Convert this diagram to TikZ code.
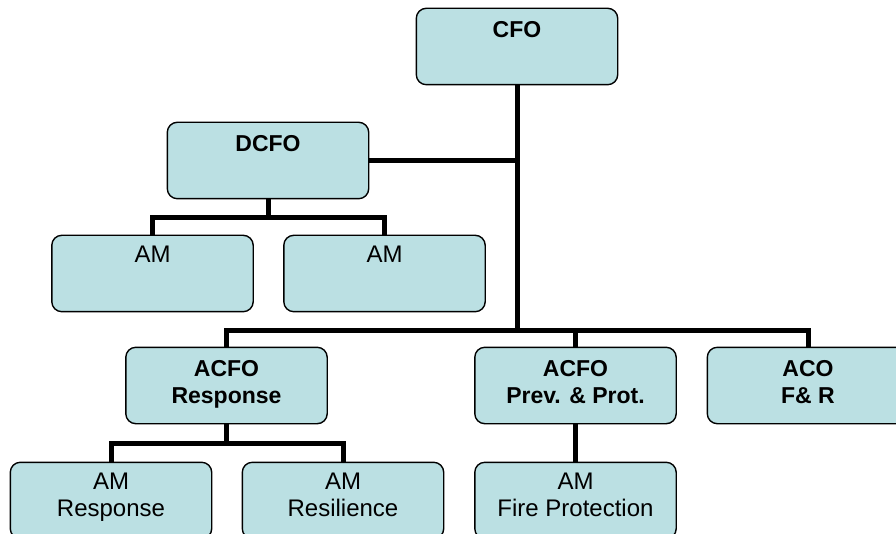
\documentclass[tikz,border=0pt]{standalone}
\usepackage{fontspec}
\setmainfont{Liberation Sans}
\definecolor{boxfill}{RGB}{187,224,227}
\begin{document}
\begin{tikzpicture}[x=1pt,y=-1pt,
  orgbox/.style={draw=black, line width=1.4pt, fill=boxfill, rounded corners=10pt,
    minimum width=200pt, minimum height=75pt, inner sep=0pt},
  conn/.style={line width=5pt, line join=miter},
  boldlbl/.style={anchor=north, inner sep=0pt, align=center, yshift=-13pt,
    font=\fontsize{23}{27}\selectfont\bfseries},
  reglbl/.style={anchor=north, inner sep=0pt, align=center, yshift=-10.5pt,
    font=\fontsize{24}{27}\selectfont}]
\useasboundingbox (0,0) rectangle (896,534);
\clip (0,0) rectangle (896,534);
\fill[white] (0,0) rectangle (896,534);

% box positions (nodes, redrawn later above connectors)
\path (517,46.5) node[orgbox] (cfo) {}
      (268,160.5) node[orgbox] (dcfo) {}
      (152.5,273.5) node[orgbox] (am1) {}
      (384.5,273.5) node[orgbox] (am2) {}
      (226.5,385.5) node[orgbox] (acfor) {}
      (575.5,385.5) node[orgbox] (acfop) {}
      (808,385.5) node[orgbox] (aco) {}
      (111,500.5) node[orgbox] (amr) {}
      (343,500.5) node[orgbox] (amres) {}
      (575.5,500.5) node[orgbox] (amfp) {};

\coordinate (bar1) at (517,330);
\coordinate (bar2) at (268,217.5);
\coordinate (bar3) at (226.5,443);

% connectors
\draw[conn] (cfo.south) -- (bar1);
\draw[conn] (dcfo.east) -- (cfo.south |- dcfo.east);
\draw[conn] (acfor.north) |- (bar1) -| (aco.north);
\draw[conn] (acfop.north) -- (acfop.north |- bar1);
\draw[conn] (dcfo.south) -- (bar2);
\draw[conn] (am1.north) |- (bar2) -| (am2.north);
\draw[conn] (acfor.south) -- (bar3);
\draw[conn] (amr.north) |- (bar3) -| (amres.north);
\draw[conn] (acfop.south) -- (amfp.north);

% redraw boxes on top of connectors
\foreach \n in {cfo,dcfo,am1,am2,acfor,acfop,aco,amr,amres,amfp}{
  \draw[draw=black, line width=1.4pt, fill=boxfill, rounded corners=10pt]
    (\n.south west) rectangle (\n.north east);
}

% labels
\node[boldlbl] (cfoT) at (cfo.north) {CFO};
\node[boldlbl] (dcfoT) at (dcfo.north) {DCFO};
\node[reglbl] (am1T) at (am1.north) {AM};
\node[reglbl] (am2T) at (am2.north) {AM};
\node[boldlbl] (acforT) at (acfor.north) {ACFO\\Response};
\node[boldlbl] (acfopT) at (acfop.north) {ACFO\\Prev. \& Prot.};
\node[boldlbl] (acoT) at (aco.north) {ACO\\F\& R};
\node[reglbl] (amrT) at (amr.north) {AM\\Response};
\node[reglbl] (amresT) at (amres.north) {AM\\Resilience};
\node[reglbl] (amfpT) at (amfp.north) {AM\\Fire Protection};
\end{tikzpicture}
\end{document}
